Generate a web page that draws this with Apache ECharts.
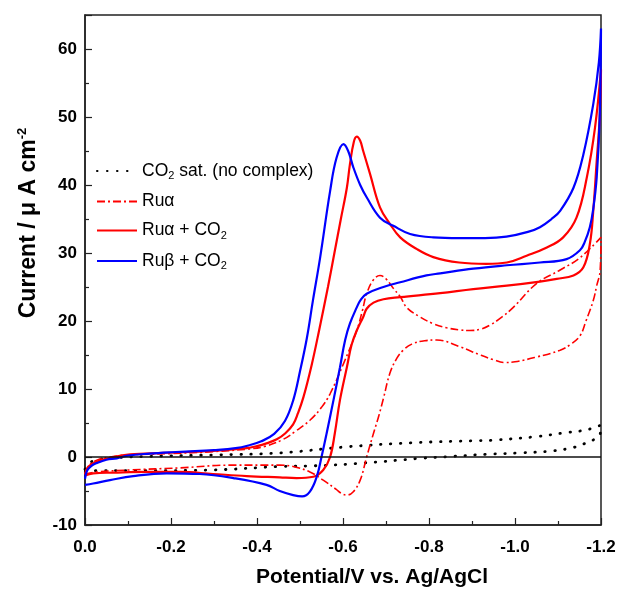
<!DOCTYPE html>
<html><head><meta charset="utf-8">
<script src="https://cdn.jsdelivr.net/npm/echarts@6/dist/echarts.min.js"></script>
<style>html,body{margin:0;padding:0;background:#fff}#c{width:619px;height:591px}</style>
</head><body><div id="c"></div>
<script>
// ---- Data (potential in V vs Ag/AgCl, current in µA cm^-2) ----
const seriesNames = ['CO2 sat. (no complex)', 'Ru\u03b1', 'Ru\u03b1 + CO2', 'Ru\u03b2 + CO2'];

const co2_E = [0, -0.01, -0.03, -0.07, -0.15, -0.3, -0.453, -0.609, -0.763, -0.911, -0.957, -1.05, -1.12, -1.167, -1.2,
  -1.198, -1.182, -1.159, -1.136, -1.089, -1.012, -0.934, -0.857, -0.779, -0.647, -0.531, -0.453, -0.298, -0.143, -0.035, 0];
const co2_I = [-1.8, -0.9, -0.4, -0.1, 0.1, 0.3, 0.6, 1.5, 2.1, 2.4, 2.5, 3.0, 3.6, 4.0, 4.7,
  3.4, 2.5, 1.9, 1.4, 0.9, 0.6, 0.4, 0.1, -0.2, -0.9, -1.3, -1.4, -1.9, -2.0, -2.0, -2.1];

const ruA_E = [0, -0.01, -0.03, -0.06, -0.1, -0.2, -0.3, -0.384, -0.42, -0.461, -0.49, -0.523, -0.55, -0.57, -0.601, -0.632, -0.645, -0.655, -0.67, -0.686, -0.70, -0.717, -0.733, -0.748, -0.779, -0.81, -0.841, -0.87, -0.895, -0.92, -0.942, -0.97, -0.996, -1.05, -1.105, -1.151, -1.2,
  -1.198, -1.19, -1.182, -1.165, -1.151, -1.13, -1.105, -1.05, -1.0, -0.975, -0.95, -0.919, -0.872, -0.818, -0.79, -0.76, -0.74, -0.725, -0.709, -0.694, -0.683, -0.671, -0.655, -0.64, -0.624, -0.609, -0.595, -0.585, -0.554, -0.523, -0.484, -0.453, -0.337, -0.221, -0.105, -0.027, 0];
const ruA_I = [-2.5, -1.2, -0.4, 0.0, 0.3, 0.5, 0.8, 1.2, 1.6, 2.6, 3.8, 5.4, 7.3, 9.3, 13.7, 18.6, 21.5, 24.0, 26.0, 26.7, 26.2, 24.8, 23.6, 22.0, 20.6, 19.6, 19.0, 18.7, 18.6, 18.8, 19.4, 20.6, 22.0, 25.5, 27.5, 29.3, 32.3,
  27.4, 25.2, 23.0, 20.0, 17.8, 16.6, 15.7, 14.7, 14.0, 13.9, 14.3, 15.0, 16.2, 17.2, 17.1, 16.6, 15.7, 14.5, 12.3, 8.6, 6.0, 3.5, 0.0, -3.4, -5.1, -5.6, -5.3, -4.8, -3.4, -2.2, -1.4, -1.2, -1.2, -1.6, -1.9, -2.2, -2.5];

const ruACO2_E = [0, -0.008, -0.027, -0.066, -0.105, -0.182, -0.298, -0.376, -0.40, -0.422, -0.446, -0.466, -0.484, -0.495, -0.508, -0.527, -0.545, -0.565, -0.58, -0.595, -0.609, -0.616, -0.625, -0.632, -0.64, -0.647, -0.663, -0.686, -0.709, -0.733, -0.771, -0.81, -0.87, -0.934, -0.981, -1.027, -1.074, -1.112, -1.143, -1.167, -1.186, -1.2,
  -1.197, -1.19, -1.182, -1.174, -1.159, -1.136, -1.097, -1.058, -0.981, -0.903, -0.826, -0.733, -0.694, -0.671, -0.655, -0.647, -0.632, -0.62, -0.609, -0.593, -0.581, -0.57, -0.554, -0.531, -0.492, -0.453, -0.376, -0.298, -0.221, -0.143, -0.066, -0.019, 0];
const ruACO2_I = [-2.6, -1.4, -0.7, 0.0, 0.4, 0.6, 0.9, 1.3, 1.6, 2.0, 2.6, 3.5, 4.8, 6.4, 8.8, 13.5, 18.8, 25.0, 30.0, 35.0, 39.6, 43.0, 46.3, 47.1, 46.5, 45.0, 41.6, 36.7, 34.3, 32.3, 30.6, 29.4, 28.6, 28.4, 28.6, 29.6, 30.8, 32.3, 35.2, 41.1, 48.4, 57.0,
  50.0, 43.5, 36.2, 31.3, 27.9, 26.7, 26.2, 25.8, 25.2, 24.7, 24.1, 23.5, 23.2, 22.7, 21.8, 20.6, 18.6, 16.5, 13.2, 8.4, 3.5, 0.0, -1.9, -2.9, -3.1, -3.0, -2.8, -2.5, -2.2, -2.2, -2.3, -2.4, -2.7];

const ruBCO2_E = [0, -0.005, -0.015, -0.027, -0.05, -0.074, -0.1, -0.15, -0.2, -0.267, -0.3, -0.35, -0.38, -0.41, -0.44, -0.465, -0.484, -0.50, -0.516, -0.53, -0.547, -0.57, -0.585, -0.601, -0.612, -0.624, -0.64, -0.655, -0.686, -0.717, -0.756, -0.81, -0.87, -0.93, -0.98, -1.03, -1.058, -1.085, -1.105, -1.136, -1.159, -1.182, -1.195, -1.2,
  -1.197, -1.19, -1.182, -1.174, -1.162, -1.151, -1.12, -1.058, -0.981, -0.903, -0.826, -0.794, -0.733, -0.694, -0.655, -0.64, -0.632, -0.616, -0.605, -0.593, -0.578, -0.562, -0.55, -0.539, -0.523, -0.505, -0.484, -0.453, -0.422, -0.345, -0.267, -0.19, -0.112, -0.058, -0.019, 0];
const ruBCO2_I = [-3.2, -2.0, -1.3, -0.9, -0.4, -0.2, 0.2, 0.5, 0.7, 0.9, 1.0, 1.3, 1.7, 2.3, 3.4, 5.3, 8.3, 12.6, 17.5, 23.0, 29.4, 39.1, 44.0, 46.0, 45.0, 42.6, 40.0, 38.2, 35.2, 34.0, 32.8, 32.3, 32.2, 32.2, 32.4, 33.1, 33.8, 35.0, 36.2, 39.6, 44.5, 51.9, 58.0, 63.0,
  50.0, 41.1, 36.5, 33.8, 31.6, 30.4, 29.1, 28.6, 28.2, 27.7, 27.0, 26.7, 25.7, 25.0, 24.0, 23.0, 22.0, 19.6, 17.2, 13.2, 8.4, 3.5, 0.0, -2.9, -5.1, -5.8, -5.6, -5.0, -4.1, -3.1, -2.5, -2.4, -2.8, -3.4, -3.9, -4.1];

const xTickValues = [0, -0.2, -0.4, -0.6, -0.8, -1.0, -1.2];
const yTickValues = [-10, 0, 10, 20, 30, 40, 50, 60];

// ---- Build ----
const zip = (E, I) => E.map((e, i) => [e, I[i]]);
const font = '"Liberation Sans", Arial, Helvetica, sans-serif';

const chart = echarts.init(document.getElementById('c'), null, {renderer: 'canvas'});

const legendRich = {
  sub: {fontSize: 11, fontFamily: font, color: '#000', padding: [10, 0, 0, 0]}
};

chart.setOption({
  animation: false,
  backgroundColor: '#fff',
  grid: {left: 85, right: 18, top: 15, bottom: 66, outerBoundsMode: 'none', containLabel: false,
    show: true, borderColor: '#222', borderWidth: 1.5, backgroundColor: 'transparent'},
  legend: {
    orient: 'vertical', left: 91, top: 157, itemWidth: 40, itemHeight: 14, itemGap: 11,
    data: seriesNames,
    itemStyle: {opacity: 0},
    textStyle: {fontFamily: font, fontSize: 17.5, color: '#000', rich: legendRich},
    formatter: n => n.replace(/CO2/g, 'CO{sub|2}'),
    selectedMode: false
  },
  xAxis: {
    type: 'value', inverse: true, min: -1.2, max: 0, interval: 0.2,
    name: 'Potential/V vs. Ag/AgCl', nameLocation: 'middle', nameGap: 42,
    nameTextStyle: {fontFamily: font, fontSize: 21, fontWeight: 'bold', color: '#000', padding: [0, 0, 0, 58]},
    axisLine: {show: true, onZero: false, lineStyle: {color: '#222', width: 1.5}},
    axisTick: {show: true, inside: true, length: 7, lineStyle: {color: '#222', width: 1.2}},
    minorTick: {show: true, splitNumber: 2, length: 4, lineStyle: {color: '#222', width: 1.2}},
    splitLine: {show: false},
    axisLabel: {
      fontFamily: font, fontSize: 17, fontWeight: 'bold', color: '#000', margin: 14,
      formatter: v => {
        const r = Math.round(v * 10) / 10;
        return xTickValues.some(t => Math.abs(t - r) < 1e-9) ? (r === 0 ? '0.0' : r.toFixed(1)) : '';
      }
    }
  },
  yAxis: {
    type: 'value', min: -10, max: 65, interval: 10,
    name: 'Current / \u03bc A cm{sup|-2}', nameLocation: 'middle', nameGap: 44, nameRotate: 90,
    nameTextStyle: {
      fontFamily: font, fontSize: 23, fontWeight: 'bold', color: '#000', padding: [0, 0, 0, 94],
      rich: {sup: {fontFamily: font, fontSize: 13, fontWeight: 'bold', color: '#000', padding: [0, 0, 12, 0]}}
    },
    axisLine: {show: true, onZero: false, lineStyle: {color: '#222', width: 1.5}},
    axisTick: {show: true, inside: true, length: 7, lineStyle: {color: '#222', width: 1.2}},
    minorTick: {show: true, splitNumber: 2, length: 4, lineStyle: {color: '#222', width: 1.2}},
    splitLine: {show: false},
    axisLabel: {
      fontFamily: font, fontSize: 17, fontWeight: 'bold', color: '#000', margin: 8, showMaxLabel: false,
      formatter: v => yTickValues.indexOf(Math.round(v)) >= 0 && Math.abs(v - Math.round(v)) < 1e-9 ? String(Math.round(v)) : ''
    }
  },
  series: [
    {
      name: seriesNames[0], type: 'line', data: zip(co2_E, co2_I), symbol: 'none', smooth: 0.4,
      lineStyle: {color: '#000', width: 2.8, type: [0.5, 9.5], cap: 'round'},
      itemStyle: {color: '#000', opacity: 0},
      markLine: {
        silent: true, symbol: ['none', 'none'], label: {show: false},
        lineStyle: {color: '#111', type: 'solid', width: 1.6, opacity: 1},
        data: [{yAxis: 0}]
      }
    },
    {
      name: seriesNames[1], type: 'line', data: zip(ruA_E, ruA_I), symbol: 'none', smooth: 0.4,
      lineStyle: {color: '#ff0000', width: 1.6, type: [8, 3, 2, 3]},
      itemStyle: {color: '#ff0000', opacity: 0}
    },
    {
      name: seriesNames[2], type: 'line', data: zip(ruACO2_E, ruACO2_I), symbol: 'none', smooth: 0.4,
      lineStyle: {color: '#ff0000', width: 2.2},
      itemStyle: {color: '#ff0000', opacity: 0}
    },
    {
      name: seriesNames[3], type: 'line', data: zip(ruBCO2_E, ruBCO2_I), symbol: 'none', smooth: 0.4,
      lineStyle: {color: '#0000ff', width: 2.2},
      itemStyle: {color: '#0000ff', opacity: 0}
    }
  ]
});
</script>
</body></html>
